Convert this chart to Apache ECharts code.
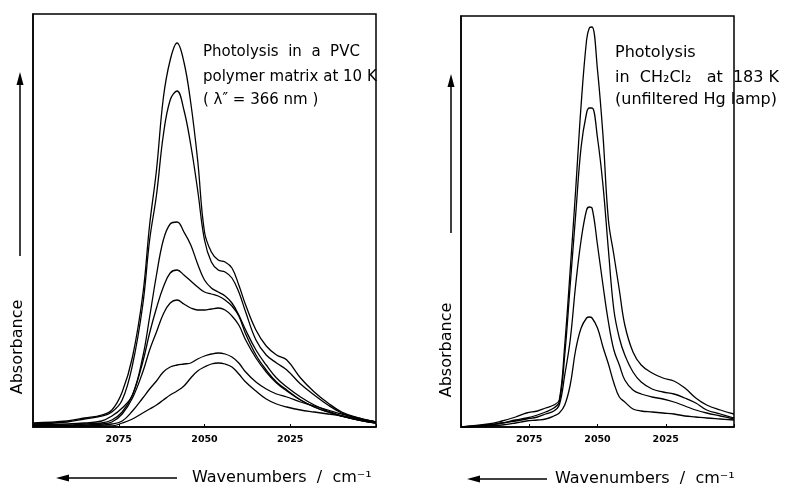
<!DOCTYPE html>
<html>
<head>
<meta charset="utf-8">
<script src="https://cdn.jsdelivr.net/npm/echarts@6/dist/echarts.min.js"></script>
<style>
html,body{margin:0;padding:0;background:#fff;}
#chart{width:786px;height:485px;}
</style>
</head>
<body>
<div id="chart"></div>
<script>
// ---- Data (absorbance in arbitrary units) ----
const xTicks = [2075, 2050, 2025];

// Left panel: photolysis in PVC matrix at 10 K
const wnLeft = [2100,2090,2085,2080,2077,2074,2071,2068,2066,2064,2062,2060,2058,2056,2054,2052,2050,2048,2046,2044,2042,2040,2038,2035,2032,2029,2026,2022,2018,2014,2010,2005,2000];
const pvc1 = [4,6,9,12,17,35,70,132,202,257,329,367,384,365,324,267,195,175,167,165,159,142,122,97,81,72,67,49,35,24,15,9,5];
const pvc2 = [3,5,8,11,15,27,62,122,187,232,292,327,336,317,282,237,187,165,157,155,149,135,115,87,72,64,57,43,32,22,14,8,5];
const pvc3 = [2,3,4,6,11,19,32,70,110,152,187,203,205,195,182,163,147,139,135,131,124,112,97,77,62,49,40,30,22,16,11,7,4];
const pvc4 = [2,2,3,4,7,15,32,65,94,119,140,154,157,152,146,140,135,133,131,127,121,111,93,72,57,45,37,27,20,15,11,7,4];
const pvc5 = [1,1,2,3,5,13,29,55,77,95,113,124,127,123,119,117,117,118,119,117,111,102,87,69,55,44,36,27,20,15,11,7,4];
const pvc6 = [1,1,1,2,3,6,16,29,38,46,55,60,62,63,64,68,71,73,74,73,70,64,55,45,38,33,30,25,21,17,13,9,5];
const pvc7 = [1,1,1,1,1,4,8,14,18,22,27,32,36,41,49,56,60,63,64,63,60,53,45,36,28,23,20,17,15,13,11,8,5];

// Right panel: photolysis in CH2Cl2 at 183 K
const wnRight = [2100,2090,2085,2080,2076,2072,2069,2066,2064,2062,2060,2058,2056,2054,2053,2052,2050,2048,2046,2044,2042,2040,2037,2034,2030,2026,2022,2018,2014,2010,2005,2000];
const dcm1 = [0,3,6,10,14,16,19,22,27,82,157,237,322,387,399,400,357,292,207,172,137,102,75,62,54,49,46,39,29,22,17,13];
const dcm2 = [0,2,4,7,9,12,15,19,25,72,142,212,280,314,319,319,289,242,177,117,89,72,55,45,38,35,33,29,24,17,13,9];
const dcm3 = [0,2,4,6,8,10,13,16,22,52,87,142,187,217,220,219,182,142,105,77,62,47,37,33,30,28,25,21,17,14,11,8];
const dcm4 = [0,1,2,4,6,7,8,11,14,22,42,77,99,109,110,109,99,80,63,44,30,25,18,16,15,14,13,11,10,9,8,7];

const leftSeries = [pvc1, pvc2, pvc3, pvc4, pvc5, pvc6, pvc7];
const rightSeries = [dcm1, dcm2, dcm3, dcm4];

// ---- Chart ----
const FONT = '"DejaVu Sans", "Liberation Sans", sans-serif';
const chart = echarts.init(document.getElementById('chart'), null, {renderer: 'canvas'});

function xAxisFor(gridIndex) {
  return {
    gridIndex, type: 'value', inverse: true, min: 2000, max: 2100, interval: 25,
    axisLine: {show: true, lineStyle: {color: '#000', width: 1.5}},
    axisTick: {show: true, inside: true, length: 3, lineStyle: {color: '#000'}},
    splitLine: {show: false},
    axisLabel: {
      color: '#000', fontFamily: FONT, fontWeight: 'bold', fontSize: 9.5, margin: 8,
      formatter: v => xTicks.includes(v) ? String(v) : ''
    }
  };
}
function yAxisFor(gridIndex, max) {
  return {
    gridIndex, type: 'value', min: 0, max,
    axisLine: {show: true, lineStyle: {color: '#000', width: 1.5}},
    axisTick: {show: false}, axisLabel: {show: false}, splitLine: {show: false}
  };
}
function mkSeries(wn, vals, idx) {
  return {
    type: 'line', xAxisIndex: idx, yAxisIndex: idx, symbol: 'none',
    smooth: 0.4,
    lineStyle: {color: '#000', width: 1.3},
    data: wn.map((w, i) => [w, vals[i]]),
    silent: true, animation: false
  };
}

const series = [];
leftSeries.forEach(v => series.push(mkSeries(wnLeft, v, 0)));
rightSeries.forEach(v => series.push(mkSeries(wnRight, v, 1)));

const txt = (x, y, text, size, extra) => Object.assign({
  type: 'text', x, y,
  style: {text, font: size + 'px ' + FONT, fill: '#000', textAlign: 'left', textVerticalAlign: 'middle'}
}, extra || {});

chart.setOption({
  animation: false,
  backgroundColor: '#fff',
  grid: [
    {left: 33, top: 14, width: 343, height: 413, show: true, borderColor: '#000', borderWidth: 1.5},
    {left: 461, top: 16, width: 273, height: 411, show: true, borderColor: '#000', borderWidth: 1.5}
  ],
  xAxis: [xAxisFor(0), xAxisFor(1)],
  yAxis: [yAxisFor(0, 413), yAxisFor(1, 411)],
  series,
  graphic: [
    // left y arrow + label
    {type: 'line', shape: {x1: 20, y1: 82, x2: 20, y2: 256}, style: {stroke: '#000', lineWidth: 1.5}},
    {type: 'polygon', shape: {points: [[20, 72], [16.5, 85], [23.5, 85]]}, style: {fill: '#000'}},
    {type: 'text', x: 18, y: 347, rotation: Math.PI / 2,
     style: {text: 'Absorbance', font: '16px ' + FONT, fill: '#000', textAlign: 'center', textVerticalAlign: 'middle'}},
    // right y arrow + label
    {type: 'line', shape: {x1: 451, y1: 84, x2: 451, y2: 233}, style: {stroke: '#000', lineWidth: 1.5}},
    {type: 'polygon', shape: {points: [[451, 74], [447.5, 87], [454.5, 87]]}, style: {fill: '#000'}},
    {type: 'text', x: 447, y: 350, rotation: Math.PI / 2,
     style: {text: 'Absorbance', font: '16px ' + FONT, fill: '#000', textAlign: 'center', textVerticalAlign: 'middle'}},
    // left x arrow + label
    {type: 'line', shape: {x1: 66, y1: 478, x2: 177, y2: 478}, style: {stroke: '#000', lineWidth: 1.5}},
    {type: 'polygon', shape: {points: [[56, 478], [69, 474.5], [69, 481.5]]}, style: {fill: '#000'}},
    txt(192, 478, 'Wavenumbers  /  cm\u207B\u00B9', 16),
    // right x arrow + label
    {type: 'line', shape: {x1: 477, y1: 479, x2: 547, y2: 479}, style: {stroke: '#000', lineWidth: 1.5}},
    {type: 'polygon', shape: {points: [[467, 479], [480, 475.5], [480, 482.5]]}, style: {fill: '#000'}},
    txt(555, 479, 'Wavenumbers  /  cm\u207B\u00B9', 16),
    // annotations
    txt(203, 52, 'Photolysis  in  a  PVC', 15),
    txt(203, 77, 'polymer matrix at 10 K', 15),
    txt(203, 100, '( \u03BB\u2033 = 366 nm )', 15),
    txt(615, 53, 'Photolysis', 16),
    txt(615, 78, 'in  CH\u2082Cl\u2082   at  183 K', 16),
    txt(615, 100, '(unfiltered Hg lamp)', 16)
  ]
});
</script>
</body>
</html>
